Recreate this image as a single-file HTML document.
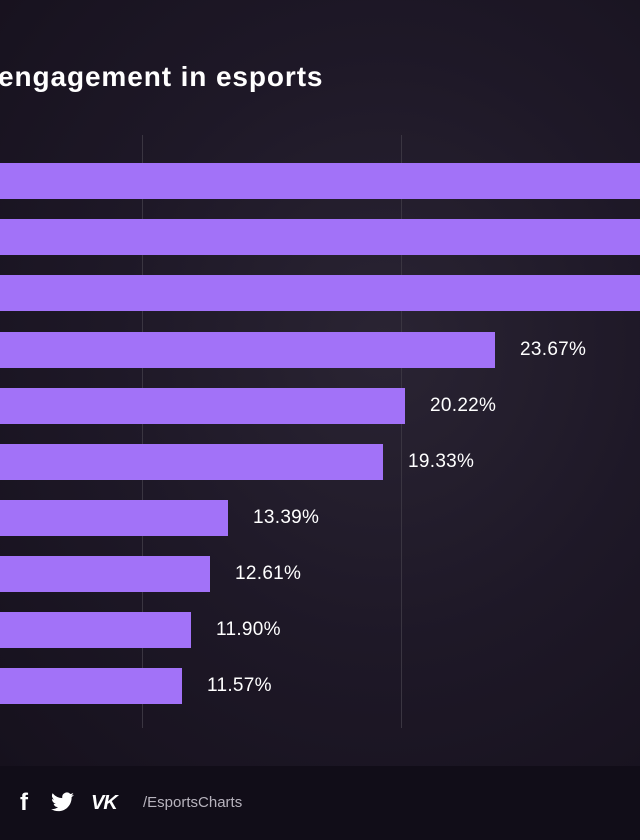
<!DOCTYPE html>
<html><head><style>
body{margin:0;width:640px;height:840px;overflow:hidden;background:#19141f;font-family:"Liberation Sans",sans-serif;}
.bg{position:absolute;left:0;top:0;width:640px;height:766px;background:radial-gradient(ellipse at 60% 45%,#2a2433 0%,#1e1827 50%,#16111d 100%);}
.ft{position:absolute;left:0;top:766px;width:640px;height:74px;background:#110d18;}
.t{position:absolute;left:-2px;top:61px;color:#fff;font-size:28px;font-weight:bold;letter-spacing:0.9px;}
.g{position:absolute;top:135px;width:1px;height:593px;background:#3a3541;}
.b{position:absolute;left:0;height:36px;background:#a272f8;}
.l{position:absolute;color:#fff;font-size:19px;letter-spacing:0.3px;}
.f{position:absolute;top:789px;color:#fff;font-size:24px;font-weight:bold;}
</style></head><body>
<div class="bg"></div><div class="ft"></div>
<div class="t">engagement in esports</div>
<div class="g" style="left:142px"></div><div class="g" style="left:401px"></div>
<div class="b" style="top:163px;width:640px"></div>
<div class="b" style="top:219px;width:640px"></div>
<div class="b" style="top:275px;width:640px"></div>
<div class="b" style="top:332px;width:495px"></div><div class="l" style="left:520px;top:339px">23.67%</div>
<div class="b" style="top:388px;width:405px"></div><div class="l" style="left:430px;top:395px">20.22%</div>
<div class="b" style="top:444px;width:383px"></div><div class="l" style="left:408px;top:451px">19.33%</div>
<div class="b" style="top:500px;width:228px"></div><div class="l" style="left:253px;top:507px">13.39%</div>
<div class="b" style="top:556px;width:210px"></div><div class="l" style="left:235px;top:563px">12.61%</div>
<div class="b" style="top:612px;width:191px"></div><div class="l" style="left:216px;top:619px">11.90%</div>
<div class="b" style="top:668px;width:182px"></div><div class="l" style="left:207px;top:675px">11.57%</div>
<div class="f" style="left:20px">f</div>
<svg style="position:absolute;left:51px;top:792px" width="23" height="20" viewBox="0 0 24 20"><path fill="#fff" d="M24 2.4a10 10 0 0 1-2.8.8A5 5 0 0 0 23.3.5a10 10 0 0 1-3.1 1.2A4.9 4.9 0 0 0 11.8 6 14 14 0 0 1 1.7.9a4.9 4.9 0 0 0 1.5 6.6A4.9 4.9 0 0 1 1 6.9a4.9 4.9 0 0 0 3.9 4.9 5 5 0 0 1-2.2.1 4.9 4.9 0 0 0 4.6 3.4A9.9 9.9 0 0 1 0 17.3 14 14 0 0 0 7.5 19.5c9.1 0 14-7.5 14-14v-.6A10 10 0 0 0 24 2.4z"/></svg>
<div class="f" style="left:91px;font-size:20px;top:792px;font-style:italic;letter-spacing:-1px">VK</div>
<div style="position:absolute;left:143px;top:794px;color:#b7b3bd;font-size:15px">/EsportsCharts</div>
</body></html>
